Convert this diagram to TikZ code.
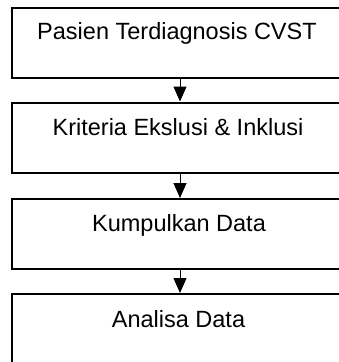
\documentclass[tikz,border=0pt]{standalone}
\usepackage{fontspec}
\setmainfont{Liberation Sans}
\usetikzlibrary{arrows.meta}
\begin{document}
\begin{tikzpicture}[x=1pt,y=-1pt,
  stepbox/.style={draw=black,line width=2pt,minimum width=337pt,minimum height=70pt,inner sep=0pt,anchor=north},
  lbl/.style={font=\fontsize{23.5}{26}\selectfont,anchor=base,inner sep=0pt},
  conn/.style={line width=1pt,-{Triangle[width=13pt,length=15pt]}}]
\useasboundingbox (0,0) rectangle (339,362);
\node[stepbox] (b1) at (180,7) {};
\node[stepbox] (b2) at (180,101.5) {};
\node[stepbox] (b3) at (180,198) {};
\node[stepbox] (b4) at (180,293) {};
\node[lbl] (t1) at (177,39) {Pasien Terdiagnosis CVST};
\node[lbl] (t2) at (178,135) {Kriteria Ekslusi \& Inklusi};
\node[lbl] (t3) at (179,231) {Kumpulkan Data};
\node[lbl] (t4) at (178.5,327) {Analisa Data};
\draw[conn] (b1.south) -- (b2.north);
\draw[conn] (b2.south) -- (b3.north);
\draw[conn] (b3.south) -- (b4.north);
\end{tikzpicture}
\end{document}
